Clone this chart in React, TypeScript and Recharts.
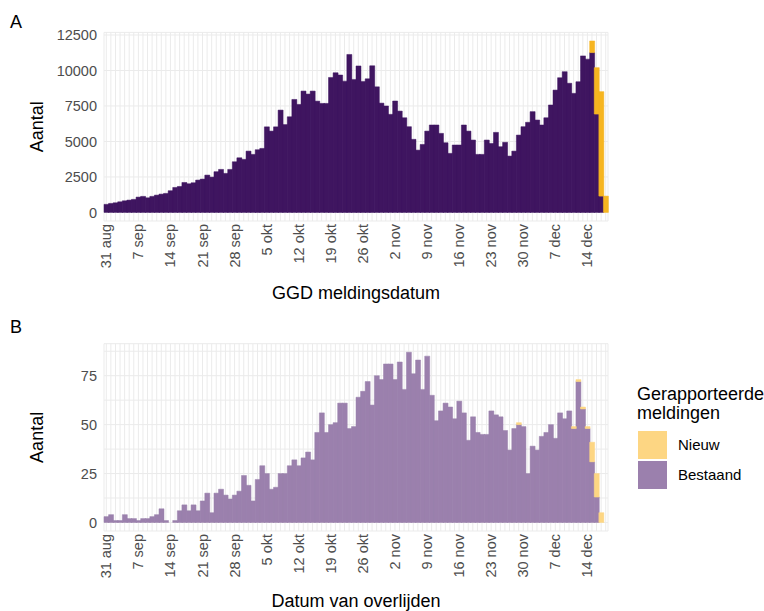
import React from 'react';
import { BarChart, Bar, XAxis, YAxis, CartesianGrid } from 'recharts';

const FONT = '"Liberation Sans", Arial, Helvetica, sans-serif';
const TICK_COLOR = '#4d4d4d';

// one category per day, 31 aug .. 18 dec
const monthNames = ['jan', 'feb', 'mrt', 'apr', 'mei', 'jun', 'jul', 'aug', 'sep', 'okt', 'nov', 'dec'];
const days: string[] = Array.from({ length: 110 }, (_, i) => {
  const d = new Date(2020, 7, 31 + i);
  return `${d.getDate()} ${monthNames[d.getMonth()]}`;
});

const tickLabels = [
  '31 aug', '7 sep', '14 sep', '21 sep', '28 sep', '5 okt', '12 okt', '19 okt',
  '26 okt', '2 nov', '9 nov', '16 nov', '23 nov', '30 nov', '7 dec', '14 dec',
];

// A: GGD meldingen
const casesExisting = [
  570, 635, 680, 750, 820, 870, 920, 1080, 1130, 1030,
  1130, 1220, 1290, 1340, 1530, 1760, 1830, 2110, 2020, 2090,
  2280, 2350, 2630, 2490, 2870, 3030, 2750, 3030, 3570, 3850,
  3740, 4320, 4090, 4420, 4510, 6030, 5730, 6030, 7210, 6190,
  6740, 7960, 7610, 8550, 8340, 8550, 7840, 7680, 7680, 9510,
  9840, 9680, 9250, 11130, 9370, 10320, 9230, 9410, 10330, 8850,
  7700, 7500, 6910, 7850, 7140, 6670, 6040, 5150, 4390, 4790,
  5730, 6160, 6160, 5570, 4910, 4160, 4750, 4750, 6160, 5730,
  5100, 4090, 4090, 5100, 4860, 5640, 4630, 4940, 3970, 4320,
  5450, 6040, 6350, 7100, 6510, 6160, 6670, 7570, 8620, 9490,
  9920, 9100, 8390, 9210, 11030, 10800, 11260, 6930, 1150, 0,
];
const casesNew = [
  0, 0, 0, 0, 0, 0, 0, 0, 0, 0,
  0, 0, 0, 0, 0, 0, 0, 0, 0, 0,
  0, 0, 0, 0, 0, 0, 0, 0, 0, 0,
  0, 0, 0, 0, 0, 0, 0, 0, 0, 0,
  0, 0, 0, 0, 0, 0, 0, 0, 0, 0,
  0, 0, 0, 0, 0, 0, 0, 0, 0, 0,
  0, 0, 0, 0, 0, 0, 0, 0, 0, 0,
  0, 0, 0, 0, 0, 0, 0, 0, 0, 0,
  0, 0, 0, 0, 0, 0, 0, 0, 0, 0,
  0, 0, 0, 0, 0, 0, 0, 0, 0, 0,
  0, 0, 0, 0, 0, 0, 820, 3270, 7360, 1150,
];

// B: overlijdens
const deathsExisting = [
  3, 4, 1, 1, 4, 2, 2, 1, 2, 2,
  3, 4, 7, 1, 0, 1, 6, 9, 6, 9,
  6, 11, 15, 5, 15, 17, 14, 12, 14, 16,
  24, 19, 11, 22, 29, 25, 17, 18, 25, 25,
  29, 32, 29, 33, 36, 32, 46, 56, 46, 50,
  51, 61, 61, 48, 49, 64, 67, 72, 60, 75,
  73, 81, 81, 73, 82, 68, 87, 76, 83, 68,
  85, 65, 52, 57, 61, 59, 53, 62, 56, 42,
  54, 46, 45, 45, 57, 55, 54, 47, 37, 48,
  50, 49, 25, 39, 37, 44, 46, 50, 43, 56,
  53, 57, 48, 72, 58, 48, 31, 13, 0, 0,
];
const deathsNew = [
  0, 0, 0, 0, 0, 0, 0, 0, 0, 0,
  0, 0, 0, 0, 0, 0, 0, 0, 0, 0,
  0, 0, 0, 0, 0, 0, 0, 0, 0, 0,
  0, 0, 0, 0, 0, 0, 0, 0, 0, 0,
  0, 0, 0, 0, 0, 0, 0, 0, 0, 0,
  0, 0, 0, 0, 0, 0, 0, 0, 0, 0,
  0, 0, 0, 0, 0, 0, 0, 0, 0, 0,
  0, 0, 0, 0, 0, 0, 0, 0, 0, 0,
  0, 0, 0, 0, 0, 0, 0, 0, 0, 0,
  1, 0, 0, 0, 0, 0, 0, 0, 0, 0,
  0, 0, 1, 1, 1, 1, 10, 12, 5, 0,
];

// y grid (major + minor) and labelled ticks
const casesGrid = [0, 1250, 2500, 3750, 5000, 6250, 7500, 8750, 10000, 11250, 12500];
const casesLabels = [0, 2500, 5000, 7500, 10000, 12500];
const deathsGrid = [0, 12.5, 25, 37.5, 50, 62.5, 75, 87.5];
const deathsLabels = [0, 25, 50, 75];

const casesData = days.map((day, i) => ({ day, bestaand: casesExisting[i], nieuw: casesNew[i] }));
const deathsData = days.map((day, i) => ({ day, bestaand: deathsExisting[i], nieuw: deathsNew[i] }));

function DayTick({ x, y, payload }: any) {
  if (!tickLabels.includes(payload.value)) return null;
  const ty = y + 3;
  return (
    <text
      x={x}
      y={ty}
      dy="0.35em"
      transform={`rotate(-90, ${x}, ${ty})`}
      textAnchor="end"
      fontSize={14.5}
      fontFamily={FONT}
      fill={TICK_COLOR}
    >
      {payload.value}
    </text>
  );
}

function ValueTick({ x, y, payload, labels }: any) {
  if (!labels.includes(payload.value)) return null;
  return (
    <text x={x - 7} y={y} dy="0.35em" textAnchor="end" fontSize={14.5} fontFamily={FONT} fill={TICK_COLOR}>
      {payload.value}
    </text>
  );
}

interface PanelProps {
  data: { day: string; bestaand: number; nieuw: number }[];
  top: number;
  height: number;
  marginTop: number;
  axisHeight: number;
  gridTicks: number[];
  labelTicks: number[];
  fills: [string, string];
  xTitle: string;
  xTitleOffset: number;
}

function Panel({ data, top, height, marginTop, axisHeight, gridTicks, labelTicks, fills, xTitle, xTitleOffset }: PanelProps) {
  const max = Math.max(...data.map((d) => d.bestaand + d.nieuw));
  const pad = max * 0.05;
  return (
    <div style={{ position: 'absolute', left: 0, top }}>
      <BarChart
        width={764}
        height={height}
        data={data}
        margin={{ top: marginTop, right: 156, bottom: 0, left: 0 }}
        barCategoryGap={0}
        barGap={0}
      >
        <CartesianGrid stroke="#ebebeb" strokeWidth={1} />
        <XAxis
          dataKey="day"
          interval={0}
          height={axisHeight}
          tick={<DayTick />}
          tickLine={false}
          axisLine={false}
          tickSize={0}
          tickMargin={0}
          label={{
            content: ({ viewBox }: any) => (
              <text
                x={viewBox.x + viewBox.width / 2}
                y={viewBox.y + xTitleOffset}
                dy="0.35em"
                textAnchor="middle"
                fontSize={18}
                fontFamily={FONT}
                fill="#000"
              >
                {xTitle}
              </text>
            ),
          }}
        />
        <YAxis
          type="number"
          domain={[-pad, max + pad]}
          ticks={gridTicks}
          width={104}
          tick={<ValueTick labels={labelTicks} />}
          tickLine={false}
          axisLine={false}
          tickSize={0}
          tickMargin={0}
          label={{
            content: ({ viewBox }: any) => {
              const cy = viewBox.y + viewBox.height / 2;
              return (
                <text
                  x={37}
                  y={cy}
                  dy="0.35em"
                  transform={`rotate(-90, 37, ${cy})`}
                  textAnchor="middle"
                  fontSize={18}
                  fontFamily={FONT}
                  fill="#000"
                >
                  Aantal
                </text>
              );
            },
          }}
        />
        <Bar dataKey="bestaand" stackId="a" fill={fills[0]} stroke={fills[0]} strokeWidth={0.5} isAnimationActive={false} />
        <Bar dataKey="nieuw" stackId="a" fill={fills[1]} stroke={fills[1]} strokeWidth={0.5} isAnimationActive={false} />
      </BarChart>
    </div>
  );
}

const tagStyle: React.CSSProperties = {
  position: 'absolute',
  left: 10,
  fontSize: 18,
  lineHeight: '18px',
  fontFamily: FONT,
  color: '#000',
};

export default function App() {
  return (
    <div style={{ position: 'absolute', left: 0, top: 0, width: 764, height: 611, background: '#fff', overflow: 'hidden' }}>
      <Panel
        data={casesData}
        top={0}
        height={305}
        marginTop={32.4}
        axisHeight={84}
        gridTicks={casesGrid}
        labelTicks={casesLabels}
        fills={['#3f1560', '#f6b520']}
        xTitle="GGD meldingsdatum"
        xTitleOffset={72}
      />
      <Panel
        data={deathsData}
        top={305}
        height={306}
        marginTop={38.7}
        axisHeight={80}
        gridTicks={deathsGrid}
        labelTicks={deathsLabels}
        fills={['#9b80ad', '#fdd683']}
        xTitle="Datum van overlijden"
        xTitleOffset={70}
      />
      <span style={{ ...tagStyle, top: 13 }}>A</span>
      <span style={{ ...tagStyle, top: 318 }}>B</span>

      <div style={{ position: 'absolute', left: 637, top: 385, fontFamily: FONT, fontSize: 18, lineHeight: '19px', color: '#000' }}>
        Gerapporteerde
        <br />
        meldingen
      </div>
      <div style={{ position: 'absolute', left: 638, top: 431, width: 29, height: 28, background: '#fdd683' }} />
      <div style={{ position: 'absolute', left: 638, top: 461, width: 29, height: 28, background: '#9b80ad' }} />
      <span style={{ position: 'absolute', left: 678, top: 436, fontFamily: FONT, fontSize: 15, lineHeight: '18px', color: '#000' }}>
        Nieuw
      </span>
      <span style={{ position: 'absolute', left: 678, top: 466, fontFamily: FONT, fontSize: 15, lineHeight: '18px', color: '#000' }}>
        Bestaand
      </span>
    </div>
  );
}
